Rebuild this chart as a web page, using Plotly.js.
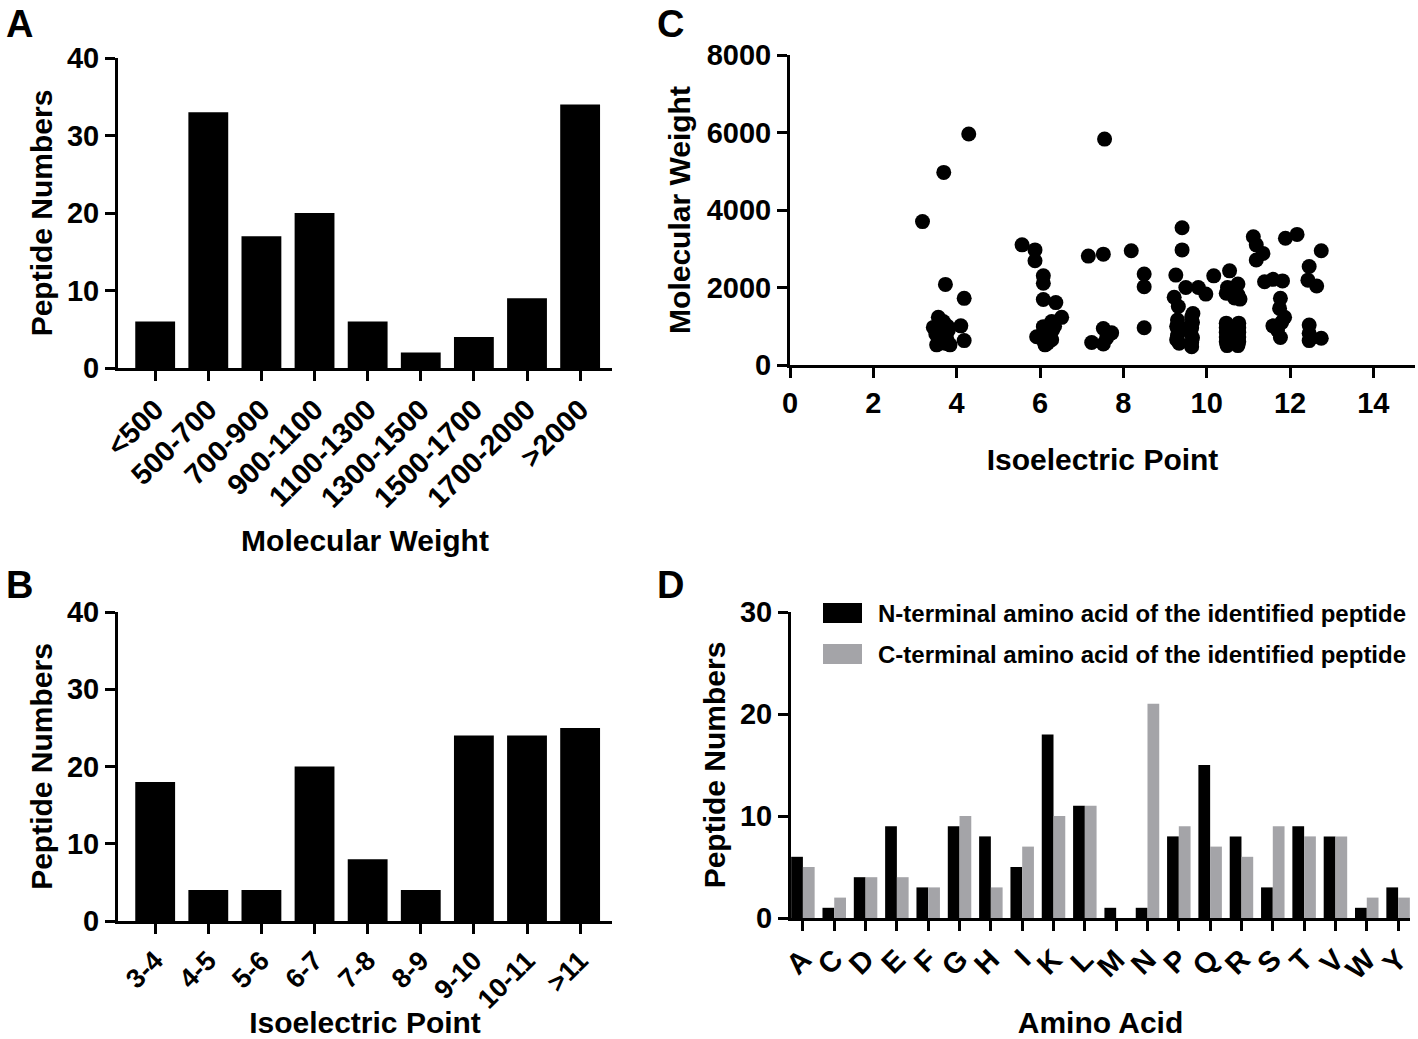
<!DOCTYPE html>
<html>
<head>
<meta charset="utf-8">
<script src="https://cdn.plot.ly/plotly-3.0.1.min.js"></script>
<style>html,body{margin:0;padding:0;background:#fff;}#chart{width:1418px;height:1039px;}</style>
</head>
<body>
<div id="chart"></div>
<script>
// ---------- Panel A: molecular weight distribution ----------
const mwCategories = ['<500','500-700','700-900','900-1100','1100-1300','1300-1500','1500-1700','1700-2000','>2000'];
const mwCounts = [6, 33, 17, 20, 6, 2, 4, 9, 34];

// ---------- Panel B: isoelectric point distribution ----------
const piCategories = ['3-4','4-5','5-6','6-7','7-8','8-9','9-10','10-11','>11'];
const piCounts = [18, 4, 4, 20, 8, 4, 24, 24, 25];

// ---------- Panel C: pI vs molecular weight ----------
const scatterPI = [
  3.18,3.69,3.73,3.56,3.44,3.68,3.80,3.64,3.52,3.84,3.76,3.60,3.70,3.58,3.72,3.66,3.50,3.78,
  4.29,4.18,4.10,4.18,
  5.57,5.88,5.88,5.92,
  6.08,6.08,6.08,6.38,6.52,6.28,6.08,6.16,6.28,6.12,6.10,6.20,6.15,6.05,6.22,6.18,6.30,6.12,6.25,6.35,
  7.16,7.52,7.55,7.52,7.72,7.24,7.52,7.60,
  8.19,8.50,8.50,8.50,
  9.41,9.41,9.26,9.50,9.80,9.98,9.22,9.32,9.67,9.30,9.28,9.32,9.30,9.28,9.64,9.66,9.64,9.62,9.66,9.64,9.64,9.34,9.60,9.30,
  10.17,10.55,10.75,10.47,10.75,10.67,10.47,10.47,10.47,10.47,10.47,10.49,10.77,10.77,10.77,10.77,10.77,10.75,10.60,10.50,10.80,10.55,10.70,10.62,
  11.12,11.19,11.35,11.19,11.89,12.17,12.75,12.46,12.43,12.64,11.39,11.59,11.82,11.77,11.75,11.87,11.59,11.77,12.46,12.46,12.46,12.75,11.80,11.70,12.50
];
const scatterMW = [
  3700,4970,2080,1230,970,1120,900,730,520,520,690,1050,850,600,560,940,800,1000,
  5960,1720,1010,630,
  3100,2970,2690,730,
  2300,2110,1690,1610,1230,1120,990,730,650,520,600,800,900,700,950,560,900,820,700,1000,
  2810,2860,5830,940,830,580,540,700,
  2950,2350,2020,960,
  3540,2970,2320,2000,2000,1830,1750,1510,1330,1160,1000,880,760,650,1240,1100,960,820,700,580,470,560,1000,950,
  2300,2430,2090,1850,1810,1730,1080,960,840,720,600,500,1080,960,840,720,600,500,1900,2000,1700,900,800,650,
  3310,3100,2880,2710,3270,3370,2950,2540,2190,2040,2150,2210,2170,1720,1460,1230,1010,710,1030,820,630,690,1100,900,700
];

// ---------- Panel D: terminal amino acids ----------
const aminoAcids = ['A','C','D','E','F','G','H','I','K','L','M','N','P','Q','R','S','T','V','W','Y'];
const nTerminal = [6,1,4,9,3,9,8,5,18,11,1,1,8,15,8,3,9,8,1,3];
const cTerminal = [5,2,4,4,3,10,3,7,10,11,0,21,9,7,6,9,8,8,2,2];
const legendNames = ['N-terminal amino acid of the identified peptide','C-terminal amino acid of the identified peptide'];
const seriesColors = ['#000000', '#a4a4a8'];

const FONT = 'Liberation Sans, Arial, Helvetica, sans-serif';
const W = 1418, H = 1039;
const px = (a,b) => [a/W, b/W];
const py = (top,bottom) => [1-bottom/H, 1-top/H];

function axisBase(extra){
  return Object.assign({
    showline:true, linecolor:'#000', linewidth:3,
    ticks:'outside', ticklen:10, tickwidth:3, tickcolor:'#000',
    showgrid:false, zeroline:false, automargin:false,
    tickfont:{family:FONT, size:29, color:'#000', weight:700},
    fixedrange:true
  }, extra);
}
const titleFont = {family:FONT, size:30, color:'#000', weight:700};

const traces = [
  {type:'bar', x:mwCategories, y:mwCounts, xaxis:'x', yaxis:'y',
   marker:{color:'#000', line:{width:0}}, showlegend:false, hoverinfo:'skip'},
  {type:'bar', x:piCategories, y:piCounts, xaxis:'x2', yaxis:'y2',
   marker:{color:'#000', line:{width:0}}, showlegend:false, hoverinfo:'skip'},
  {type:'scatter', mode:'markers', x:scatterPI, y:scatterMW, xaxis:'x3', yaxis:'y3',
   marker:{color:'#000', size:15}, showlegend:false, hoverinfo:'skip'},
  {type:'bar', name:legendNames[0], x:aminoAcids, y:nTerminal, xaxis:'x4', yaxis:'y4',
   marker:{color:seriesColors[0], line:{width:0}}, showlegend:false},
  {type:'bar', name:legendNames[1], x:aminoAcids, y:cTerminal, xaxis:'x4', yaxis:'y4',
   marker:{color:seriesColors[1], line:{width:0}}, showlegend:false}
];

// custom legend for panel D (large swatches as in the original)
const legShapes = [], legAnn = [];
const legRows = [613, 654];
legendNames.forEach((name, i) => {
  const yc = legRows[i];
  legShapes.push({type:'rect', xref:'paper', yref:'paper',
    x0:823/W, x1:862/W, y0:1-(yc+10)/H, y1:1-(yc-10)/H,
    fillcolor:seriesColors[i], line:{width:0}});
  legAnn.push({text:name, xref:'paper', yref:'paper', x:876/W, y:1-yc/H,
    xanchor:'left', yanchor:'middle', showarrow:false,
    font:{family:FONT, size:24, color:'#000', weight:700}});
});

const panelLetter = (t, x, y) => ({text:t, x:x/W, y:1-y/H, xref:'paper', yref:'paper', showarrow:false,
  xanchor:'left', yanchor:'top', font:{family:FONT,size:38,weight:700,color:'#000'}});

const layout = {
  width:W, height:H,
  margin:{l:0,r:0,t:0,b:0},
  paper_bgcolor:'#fff', plot_bgcolor:'#fff',
  barmode:'group', bargap:0.25, bargroupgap:0,
  font:{family:FONT, color:'#000'},
  showlegend:false,
  // Panel A
  xaxis: axisBase({domain:px(118,612), anchor:'y', type:'category', range:[-0.7,8.6],
    tickangle:-45, title:{text:'Molecular Weight', font:titleFont, standoff:18}}),
  yaxis: axisBase({domain:py(58,368), anchor:'x', range:[0,40], dtick:10,
    title:{text:'Peptide Numbers', font:titleFont, standoff:6}}),
  // Panel B
  xaxis2: axisBase({domain:px(118,612), anchor:'y2', type:'category', range:[-0.7,8.6],
    tickangle:-45, tickfont:{family:FONT, size:27, color:'#000', weight:700},
    title:{text:'Isoelectric Point', font:titleFont, standoff:4}}),
  yaxis2: axisBase({domain:py(612,921), anchor:'x2', range:[0,40], dtick:10,
    title:{text:'Peptide Numbers', font:titleFont, standoff:6}}),
  // Panel C
  xaxis3: axisBase({domain:px(790,1415), anchor:'y3', range:[0,15], dtick:2, tick0:0,
    title:{text:'Isoelectric Point', font:titleFont, standoff:32}}),
  yaxis3: axisBase({domain:py(55,365), anchor:'x3', range:[0,8000], dtick:2000,
    title:{text:'Molecular Weight', font:titleFont, standoff:8}}),
  // Panel D
  xaxis4: axisBase({domain:px(791,1410), anchor:'y4', type:'category', range:[-0.38,19.38],
    tickangle:-45, tickmode:'array', tickvals:aminoAcids, ticktext:aminoAcids,
    title:{text:'Amino Acid', font:titleFont, standoff:46}}),
  yaxis4: axisBase({domain:py(612,918), anchor:'x4', range:[0,30], dtick:10,
    title:{text:'Peptide Numbers', font:titleFont, standoff:6}}),
  shapes: legShapes,
  annotations:[
    panelLetter('A', 4, 1), panelLetter('B', 4, 562),
    panelLetter('C', 655, 1), panelLetter('D', 655, 562)
  ].concat(legAnn)
};

Plotly.newPlot('chart', traces, layout, {displayModeBar:false, staticPlot:true});
</script>
</body>
</html>
